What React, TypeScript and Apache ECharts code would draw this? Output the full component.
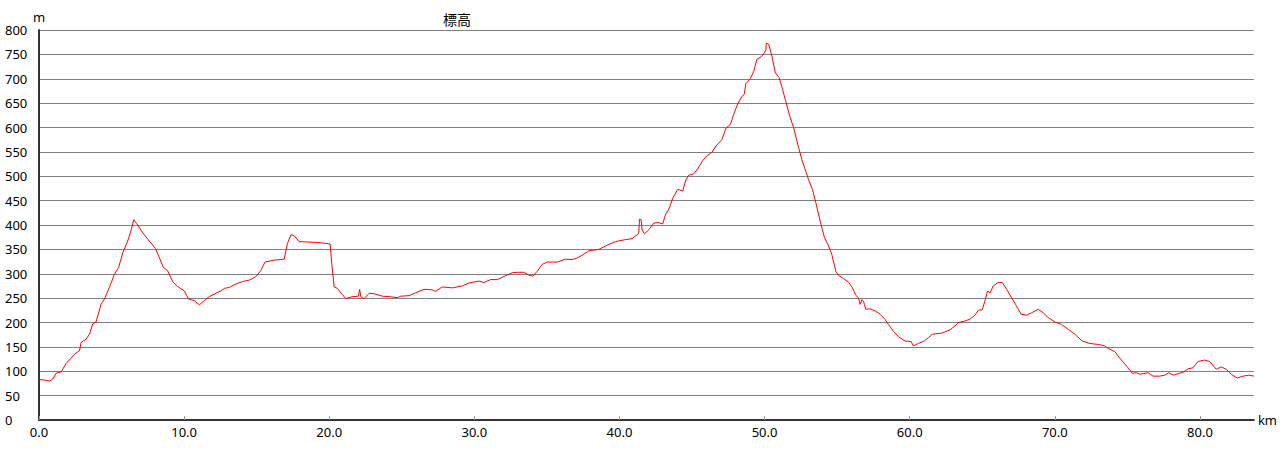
import React, { useEffect, useRef } from 'react';
import * as echarts from 'echarts';

const distanceKm = [
  0, 0.38, 0.72, 0.95, 1.18, 1.53, 1.87, 2.21, 2.44, 2.79, 2.9, 3.25, 3.48, 3.7, 3.93, 4.28, 4.51, 4.85, 5.2, 5.49,
  5.77, 6.11, 6.3, 6.53, 6.73, 7.15, 7.6, 8.02, 8.34, 8.57, 8.87, 9.21, 9.55, 10.01, 10.31, 10.7, 11.05, 11.39, 11.73,
  12.2, 12.54, 12.77, 13.11, 13.57, 14.03, 14.49, 14.95, 15.29, 15.57, 16.21, 16.9, 17.12, 17.36, 17.58, 17.93, 18.62,
  19.3, 20.06, 20.18, 20.34, 20.56, 20.91, 21.14, 21.6, 22.01, 22.1, 22.17, 22.4, 22.75, 23.09, 23.66, 24.12, 24.7,
  24.93, 25.5, 25.96, 26.53, 27.1, 27.34, 27.79, 28.48, 29.17, 29.63, 30.32, 30.66, 31.12, 31.58, 32.15, 32.61, 32.95,
  33.41, 33.76, 34.03, 34.33, 34.67, 35.02, 35.71, 36.28, 36.74, 37.08, 37.43, 37.89, 38.58, 39.04, 39.72, 40.41,
  40.87, 41.21, 41.33, 41.38, 41.49, 41.56, 41.72, 42.02, 42.36, 42.7, 42.98, 43.17, 43.44, 43.67, 44.01, 44.36, 44.58,
  44.77, 45.11, 45.39, 45.73, 46.03, 46.37, 46.65, 47.06, 47.34, 47.64, 47.87, 48.16, 48.44, 48.6, 48.71, 49.02, 49.24,
  49.47, 49.77, 49.98, 50.09, 50.12, 50.28, 50.5, 50.74, 51.01, 51.24, 51.42, 51.77, 52.0, 52.29, 52.57, 52.84, 53.03,
  53.3, 53.53, 53.83, 54.13, 54.41, 54.63, 54.91, 55.09, 55.44, 55.78, 56.06, 56.28, 56.47, 56.59, 56.7, 56.81, 56.88,
  56.97, 57.27, 57.62, 57.96, 58.31, 58.53, 58.88, 59.22, 59.68, 60.1, 60.25, 60.6, 61.01, 61.29, 61.56, 62.2, 62.78,
  63.12, 63.35, 63.81, 64.16, 64.5, 64.73, 65.0, 65.19, 65.37, 65.53, 65.76, 66.1, 66.38, 66.68, 67.02, 67.3, 67.67,
  68.05, 68.4, 68.86, 69.2, 69.55, 70.01, 70.46, 70.92, 71.38, 71.89, 72.41, 72.99, 73.44, 73.67, 74.14, 74.59, 75.05,
  75.33, 75.62, 75.86, 76.08, 76.43, 76.77, 77.23, 77.58, 77.85, 78.15, 78.49, 78.84, 79.18, 79.52, 79.87, 80.33,
  80.67, 81.13, 81.47, 81.82, 82.16, 82.57, 82.97, 83.37, 83.72,
];

const elevationM = [
  83, 82, 80, 84, 96, 99, 116, 127, 135, 142, 159, 166, 176, 197, 201, 238, 248, 272, 299, 313,
  343, 367, 384, 411, 403, 384, 367, 352, 330, 313, 306, 284, 274, 265, 248, 245, 236, 245, 253,
  260, 265, 270, 272, 279, 284, 287, 294, 307, 324, 328, 330, 362, 380, 378, 366, 365,
  364, 361, 319, 273, 270, 257, 249, 253, 254, 268, 253, 249, 260, 259, 254, 253, 251,
  254, 255, 261, 268, 267, 264, 273, 271, 275, 281, 285, 282, 288, 288, 296, 302, 303,
  303, 297, 295, 305, 319, 324, 324, 330, 329, 332, 338, 347, 350, 357, 366, 370,
  372, 380, 383, 412, 411, 390, 382, 390, 404, 405, 402, 421, 435, 455, 473, 470, 493,
  502, 505, 515, 532, 542, 549, 562, 575, 599, 606, 627, 649, 664, 668, 690, 700, 714,
  740, 745, 753, 759, 773, 771, 747, 712, 702, 678, 658, 620, 600, 565, 534, 510, 493,
  473, 446, 408, 374, 357, 340, 305, 297, 290, 283, 271, 256, 251, 237, 247, 244, 237,
  227, 228, 224, 217, 206, 196, 182, 171, 162, 161, 152, 157, 162, 169, 176, 178, 185,
  193, 200, 203, 207, 215, 225, 226, 245, 265, 260, 275, 282, 282, 268, 251, 237, 217,
  215, 220, 227, 220, 210, 201, 196, 186, 176, 162, 157, 155, 152, 147, 140, 123, 107,
  96, 97, 94, 95, 97, 90, 90, 92, 97, 92, 95, 98, 105, 107, 120, 123,
  120, 104, 109, 104, 94, 86, 90, 92, 90,
];

const chartTitle = '標高';
const xName = 'km';
const yName = 'm';

export default function App() {
  const ref = useRef<HTMLDivElement>(null);
  useEffect(() => {
    const chart = echarts.init(ref.current!, null, { renderer: 'svg' });
    const font = '"Noto Sans", sans-serif';
    chart.setOption({
      animation: false,
      backgroundColor: '#ffffff',
      title: {
        text: chartTitle,
        left: 443,
        top: 12,
        padding: 0,
        textStyle: { fontSize: 14, fontWeight: 'normal', color: '#000', fontFamily: '"Noto Sans CJK JP", sans-serif' },
      },
      grid: { left: 39, right: 24, top: 30, bottom: 33, containLabel: false },
      xAxis: {
        type: 'value',
        min: 0,
        max: 'dataMax',
        interval: 10,
        name: xName,
        nameLocation: 'end',
        nameGap: 4,
        nameTextStyle: { fontSize: 13, color: '#000', fontFamily: font },
        axisLine: { show: true, onZero: false, lineStyle: { color: '#333', width: 2 } },
        axisTick: { show: true, inside: true, length: 4, lineStyle: { color: '#999', width: 1 } },
        axisLabel: {
          fontSize: 13,
          color: '#000',
          fontFamily: font,
          margin: 5,
          showMaxLabel: false,
          formatter: (v: number) => v.toFixed(1),
        },
        splitLine: { show: false },
      },
      yAxis: {
        type: 'value',
        min: 0,
        max: 800,
        interval: 50,
        name: yName,
        nameLocation: 'end',
        nameGap: 0,
        nameTextStyle: { fontSize: 13, color: '#000', fontFamily: font, padding: [0, 0, -2, 0] },
        axisLine: { show: true, lineStyle: { color: '#333', width: 2 } },
        axisTick: { show: false },
        axisLabel: { fontSize: 13, color: '#000', fontFamily: font, align: 'left', margin: 34 },
        splitLine: { show: true, lineStyle: { color: '#808080', width: 1 } },
      },
      series: [
        {
          type: 'line',
          data: distanceKm.map((d, i) => [d, elevationM[i]]),
          showSymbol: false,
          symbol: 'none',
          lineStyle: { color: '#ff0000', width: 1 },
          itemStyle: { color: '#ff0000' },
        },
      ],
    });
    return () => chart.dispose();
  }, []);
  return (
    <div
      ref={ref}
      style={{ position: 'fixed', left: 0, top: 0, width: 1280, height: 453, background: '#fff' }}
    />
  );
}
